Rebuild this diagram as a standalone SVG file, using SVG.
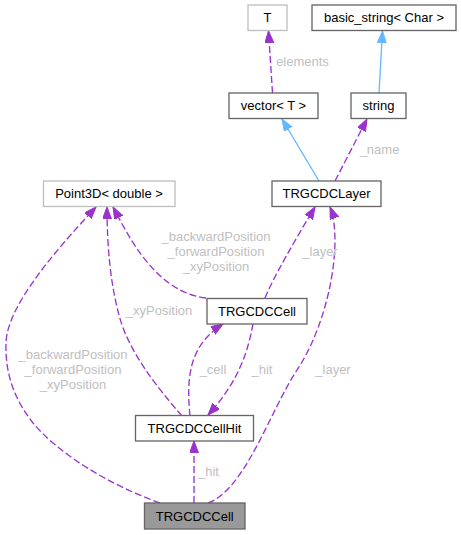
<svg xmlns="http://www.w3.org/2000/svg" width="461" height="535" viewBox="0 0 461 535">
<defs>
<style>
.node rect{fill:#ffffff;stroke:#666666;stroke-width:1.33}
.node.undoc rect{stroke:#bfbfbf}
.node.cur rect{fill:#999999}
.node text{font-family:"Liberation Sans",Arial,Helvetica,sans-serif;font-size:13px;fill:#000000;text-anchor:middle}
.edges path{fill:none;stroke-width:1.33}
.edges .use{stroke:#9a32cd;stroke-dasharray:7,3;marker-end:url(#ap)}
.edges .inh{stroke:#63b8ff;marker-end:url(#ab)}
.lbl{font-family:"Liberation Sans",Arial,Helvetica,sans-serif;font-size:13px;fill:#c0c0c0;text-anchor:middle}
</style>
<marker id="ap" markerUnits="userSpaceOnUse" markerWidth="14" markerHeight="12" refX="12" refY="4.5" orient="auto" viewBox="0 0 14 12">
<path d="M0,0 L12,4.5 L0,9 Z" fill="#9a32cd" stroke="#9a32cd" stroke-width="1"/>
</marker>
<marker id="ab" markerUnits="userSpaceOnUse" markerWidth="14" markerHeight="12" refX="12" refY="4.5" orient="auto" viewBox="0 0 14 12">
<path d="M0,0 L12,4.5 L0,9 Z" fill="#63b8ff" stroke="#63b8ff" stroke-width="1"/>
</marker>
</defs>
<rect width="461" height="535" fill="#ffffff"/>
<g id="edges" class="edges">
<path class="use" d="M272.5,93 L268.5,31"/>
<path class="inh" d="M379,93 L382.5,31"/>
<path class="inh" d="M319,181 L282,119"/>
<path class="use" d="M335,181 L367,119"/>
<path class="use" d="M160,503 C110,485 60,455 33,423 C15,400 5,375 6,343 C7,305 58,248 96,207"/>
<path class="use" d="M182,416 C155,385 128,350 119,315 C111,285 107,250 107,207"/>
<path class="use" d="M206,298 C155,292 128,235 113,207"/>
<path class="use" d="M265,298 C272,280 295,240 315,207"/>
<path class="use" d="M208,503 C245,490 270.6,410 297,370 C330,320 343,240 330,207"/>
<path class="use" d="M190,416 C186,375 190,345 223,324"/>
<path class="use" d="M253,324 C248,350 240,380 208,415"/>
<path class="use" d="M194,503 L194,441"/>
</g>
<g id="labels">
<text class="lbl" x="302.5" y="65.5">elements</text>
<text class="lbl" x="379.5" y="153.5">_name</text>
<text class="lbl" x="216" y="241">_backwardPosition</text>
<text class="lbl" x="216" y="256">_forwardPosition</text>
<text class="lbl" x="216" y="271">_xyPosition</text>
<text class="lbl" x="320" y="256">_layer</text>
<text class="lbl" x="159" y="315">_xyPosition</text>
<text class="lbl" x="73" y="358.5">_backwardPosition</text>
<text class="lbl" x="73" y="373.5">_forwardPosition</text>
<text class="lbl" x="73" y="388.5">_xyPosition</text>
<text class="lbl" x="213" y="373.5">_cell</text>
<text class="lbl" x="262" y="373.5">_hit</text>
<text class="lbl" x="333" y="373.5">_layer</text>
<text class="lbl" x="208.5" y="476">_hit</text>
</g>
<g id="node-T" class="node undoc"><rect x="248" y="5" width="39" height="25.5"/><text x="267.5" y="22">T</text></g>
<g id="node-basic_string" class="node"><rect x="312" y="5" width="144" height="25.5"/><text x="384" y="22">basic_string&lt; Char &gt;</text></g>
<g id="node-vector" class="node"><rect x="229" y="93" width="89" height="25.5"/><text x="273.5" y="110">vector&lt; T &gt;</text></g>
<g id="node-string" class="node"><rect x="351" y="93" width="55" height="25.5"/><text x="378.5" y="110">string</text></g>
<g id="node-Point3D" class="node undoc"><rect x="43.5" y="181" width="131.5" height="25.5"/><text x="109" y="198">Point3D&lt; double &gt;</text></g>
<g id="node-TRGCDCLayer" class="node"><rect x="272" y="181" width="109" height="25.5"/><text x="326.5" y="198">TRGCDCLayer</text></g>
<g id="node-TRGCDCCell-member" class="node"><rect x="207" y="298.5" width="100" height="25.5"/><text x="257" y="315.5">TRGCDCCell</text></g>
<g id="node-TRGCDCCellHit" class="node"><rect x="135.5" y="415.5" width="118" height="25.5"/><text x="194.5" y="432.5">TRGCDCCellHit</text></g>
<g id="node-TRGCDCCell" class="node cur"><rect x="144.5" y="503" width="100.5" height="26"/><text x="194.75" y="520.5">TRGCDCCell</text></g>
</svg>
